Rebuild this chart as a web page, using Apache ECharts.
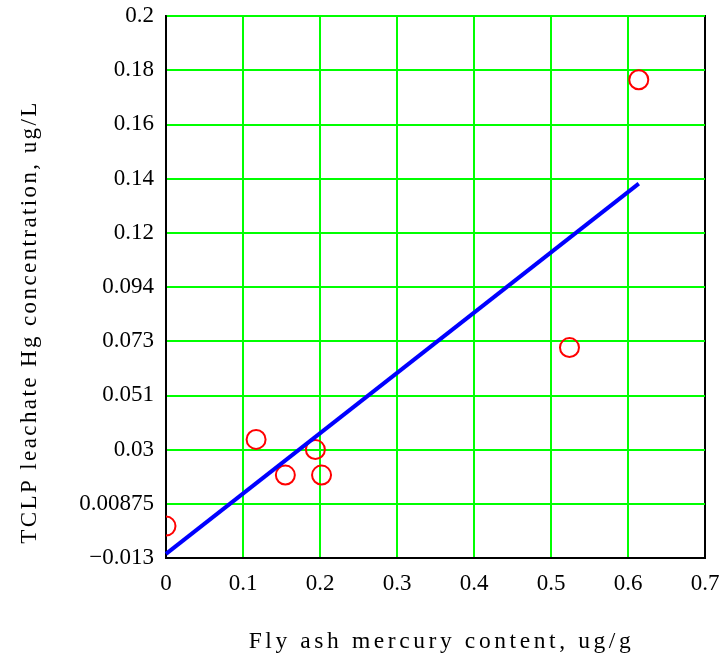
<!DOCTYPE html>
<html>
<head>
<meta charset="utf-8">
<script src="https://cdn.jsdelivr.net/npm/echarts@6/dist/echarts.min.js"></script>
<style>
html,body{margin:0;padding:0;background:#fff;}
#chart{width:725px;height:664px;}
</style>
</head>
<body>
<div id="chart"></div>
<script>
// Data
const xValues = [0, 0.117, 0.155, 0.194, 0.202, 0.524, 0.614];
const yValues = [0.0, 0.034, 0.020, 0.030, 0.020, 0.070, 0.175];
const fitX = [0, 0.614];
const fitY = [-0.0109, 0.1343];
const xTickLabels = ['0', '0.1', '0.2', '0.3', '0.4', '0.5', '0.6', '0.7'];
const yTickLabels = ['\u22120.013', '0.00875', '0.03', '0.051', '0.073', '0.094', '0.12', '0.14', '0.16', '0.18', '0.2'];
const xTitle = 'Fly ash mercury content, ug/g';
const yTitle = 'TCLP leachate Hg concentration, ug/L';
const yMin = -0.0125, yMax = 0.2, yStep = 0.02125;

// Wider letter spacing for the axis titles (the reference uses spaced text)
const spacingByText = {[xTitle]: '3.6px', [yTitle]: '2.4px'};
const origFill = CanvasRenderingContext2D.prototype.fillText;
CanvasRenderingContext2D.prototype.fillText = function (t, x, y, w) {
  if ('letterSpacing' in this) this.letterSpacing = spacingByText[t] || '0px';
  return w === undefined ? origFill.call(this, t, x, y) : origFill.call(this, t, x, y, w);
};

// The axis is shifted so that its first tick (yMin) becomes 0
const shift = v => v - yMin;
const scatterData = xValues.map((x, i) => [x, shift(yValues[i])]);
const fitData = fitX.map((x, i) => [x, shift(fitY[i])]);

const chart = echarts.init(document.getElementById('chart'), null, {renderer: 'canvas'});
const font = 'Liberation Serif';
chart.setOption({
  animation: false,
  backgroundColor: '#fff',
  grid: {left: 166, top: 16, right: 20, bottom: 106, show: true, borderColor: '#000', borderWidth: 2, backgroundColor: 'transparent'},
  xAxis: {
    type: 'value', min: 0, max: 0.7, interval: 0.1,
    name: xTitle, nameLocation: 'middle', nameGap: 72,
    nameTextStyle: {fontFamily: font, fontSize: 23.5, color: '#000', padding: [0, 0, 0, 12]},
    axisLine: {show: true, lineStyle: {color: '#000', width: 2}},
    axisTick: {show: false},
    axisLabel: {fontFamily: font, fontSize: 23, color: '#000', margin: 14,
      formatter: (v) => xTickLabels[Math.round(v / 0.1)]},
    splitLine: {show: true, showMaxLine: false, lineStyle: {color: '#00ff00', width: 2}}
  },
  yAxis: {
    type: 'value', min: 0, max: shift(yMax), interval: yStep,
    name: yTitle, nameLocation: 'middle', nameGap: 125,
    nameTextStyle: {fontFamily: font, fontSize: 23, color: '#000', padding: [0, 70, 0, 0]},
    axisLine: {show: true, lineStyle: {color: '#000', width: 2}},
    axisTick: {show: false},
    axisLabel: {fontFamily: font, fontSize: 23, color: '#000', margin: 12,
      formatter: (v) => yTickLabels[Math.round(v / yStep)]},
    splitLine: {show: true, showMaxLine: false, lineStyle: {color: '#00ff00', width: 2}}
  },
  series: [
    {
      type: 'custom',
      clip: true,
      z: 3,
      data: scatterData,
      renderItem: (params, api) => {
        const p = api.coord([api.value(0), api.value(1)]);
        return {type: 'circle', shape: {cx: p[0], cy: p[1], r: 9.5},
          style: {fill: 'none', stroke: '#ff0000', lineWidth: 2}};
      }
    },
    {
      type: 'line',
      z: 4,
      data: fitData,
      showSymbol: false,
      symbol: 'none',
      lineStyle: {color: '#0000ff', width: 4}
    }
  ]
});
</script>
</body>
</html>
